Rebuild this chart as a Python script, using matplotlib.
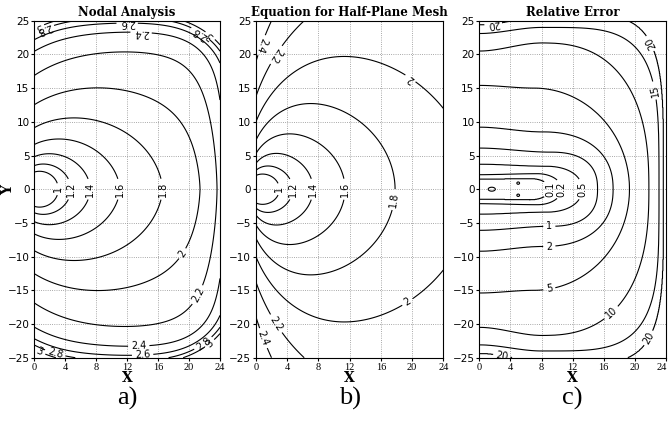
import numpy as np
import matplotlib
matplotlib.use("Agg")
import matplotlib.pyplot as plt
from matplotlib.transforms import ScaledTranslation

# contour levels of the three panels
levels_a = [1, 1.2, 1.4, 1.6, 1.8, 2, 2.2, 2.4, 2.6, 2.8, 3]
levels_b = [1, 1.2, 1.4, 1.6, 1.8, 2, 2.2, 2.4]
levels_c = [0.1, 0.2, 0.5, 1, 2, 5, 10, 15, 20]

# half-plane field: alpha(0deg), alpha(90deg), power, r0(0deg), r0(90deg), power
mesh_b = [0.449, 0.628, 8.0, 3.0, 2.04, 1.8]
mesh_a = [0.471, 0.625, 1.4, 3.1, 2.54, 2.6]
# nodal boundary rise: top/bottom amplitude, corner extra, decay,
#                      right amplitude, corner extra, decay, corner length,
#                      left corner amplitude, corner coupling, ceiling
edge_a = [0.365, 0.405, 1.84, 0.29, 0.35, 2.2, 3.0, 0.1, 6.0, 3.12]

# relative error contours: y at x=0, y where they start to bend,
# x of the bend, x where they meet y=0, squareness
err_y0 = [1.45, 2.15, 3.7, 6.1, 9.2, 15.4, 20.5, 23.1, 24.4]
err_yb = [1.55, 2.3, 3.4, 5.5, 8.5, 15.0, 21.7, 24.0, 26.0]
err_xb = [6.5, 7.5, 8.5, 9.0, 8.0, 7.0, 8.0, 8.0, 10.0]
err_x = [9.1, 10.6, 13.2, 15.2, 17.2, 19.3, 21.8, 23.1, 23.7]
err_pw = [2.0, 2.0, 2.2, 2.5, 2.3, 2.0, 2.5, 4.0, 4.5]

xt = [0, 4, 8, 12, 16, 20, 24]
yt = [-25, -20, -15, -10, -5, 0, 5, 10, 15, 20, 25]

x = np.linspace(0, 24, 481)
y = np.linspace(-25, 25, 1001)
X, Y = np.meshgrid(x, y)
AY = np.abs(Y)


def half_plane(p):
    a0, a90, pa, r00, r090, pr = p
    r = np.hypot(X, Y) + 1e-9
    u = np.arctan2(AY, X) / (np.pi / 2)
    alpha = a0 + (a90 - a0) * u ** pa
    r0 = r00 + (r090 - r00) * u ** pr
    return 1 + alpha * np.log(r / r0)


Zb = half_plane(mesh_b)

ay0, ayc, ly, ax0, axc, lx, kc, al, kk, top = edge_a
near_y = np.exp(-(25 - AY) / kc)
By = (ay0 + ayc * (np.exp(-X / kc) + np.exp(-(24 - X) / kc))) * np.exp(-(25 - AY) / ly)
Bx = (ax0 + axc * near_y) * np.exp(-(24 - X) / lx) + al * near_y * np.exp(-X / 2.0)
Za = half_plane(mesh_a) + By + Bx + kk * By * Bx
Za = -0.05 * np.log(np.exp(-Za / 0.05) + np.exp(-top / 0.05))

# relative error: find for each point the (fractional) level whose curve passes it
idx = np.arange(len(levels_c))


def err_curve(t):
    y0 = np.interp(t, idx, err_y0)
    yb = np.interp(t, idx, err_yb)
    x0 = np.interp(t, idx, err_xb)
    x1 = np.interp(t, idx, err_x)
    pw = np.interp(t, idx, err_pw)
    s = np.clip(X / x0, 0, 1)
    flat = y0 + (yb - y0) * s * s * (3 - 2 * s)
    u = np.clip((X - x0) / (x1 - x0), 0, 1)
    ell = yb * (1 - u ** pw) ** (1 / pw)
    return np.where(X < x0, flat, ell)


lo = np.full(X.shape, -1.0)
hi = np.full(X.shape, float(len(levels_c)))
for _ in range(28):
    mid = (lo + hi) / 2
    inside = AY < err_curve(mid)
    hi = np.where(inside, mid, hi)
    lo = np.where(inside, lo, mid)
t = (lo + hi) / 2
Zc = np.exp(np.interp(t, np.r_[-1, idx, len(levels_c)], np.log(np.r_[0.05, levels_c, 26])))
# small numerical islands near the source
Zc = Zc + 0.1 * np.exp(-((X - 1.6) / 0.55) ** 2 - (Y / 0.35) ** 2)
Zc = Zc + 0.07 * np.exp(-((X - 5.0) / 0.3) ** 2 - ((AY - 0.9) / 0.3) ** 2)

# (level, x, y) of each inline label
lab_a = [(1, 3.1, 0), (1.2, 4.8, 0), (1.4, 7.4, 0), (1.6, 11.3, 0), (1.8, 16.9, 0),
         (2, 19, -9.4), (2.2, 19.9, -14.9), (2.4, 13.5, -23.2), (2.4, 13.8, 23.4),
         (2.6, 14, -24.6), (2.6, 12, 24.5), (2.8, 21.6, -22.5), (2.8, 1.2, 23.9),
         (2.8, 2.7, -24.3), (2.8, 22, 24.1), (3, 23.2, -23.7), (3, 1, -23.4),
         (3, 23.2, 23.5), (3, 0.4, 24.4)]
lab_b = [(1, 3.0, 0), (1.2, 4.6, 0), (1.4, 7.1, 0), (1.6, 11.6, 0), (1.8, 17.5, -1.5),
         (2, 19.5, 16), (2, 19, -16), (2.2, 1.8, 20.5), (2.2, 1.8, -20.5),
         (2.4, 0.4, 21.5), (2.4, 0.5, -22.3)]
lab_c = [(0.1, 9.1, 0), (0.2, 10.6, 0), (0.5, 13.2, 0), (1, 9, -5.4), (2, 9, -8.5),
         (5, 9, -14.8), (10, 17, -18.4), (15, 22.7, 14.7), (20, 21.5, -21.9),
         (20, 2.9, -24.7), (20, 1.8, 24.6), (20, 21.9, 21.6)]

fig = plt.figure(figsize=(6.69, 4.24), dpi=100)
W, H = 669.0, 424.0
boxes = [(34.3, 220.0), (256.0, 443.3), (479.3, 666.0)]
titles = ["Nodal Analysis", "Equation for Half-Plane Mesh", "Relative Error"]
fields = [(Za, levels_a, lab_a), (Zb, levels_b, lab_b), (Zc, levels_c, lab_c)]
tags = ["a)", "b)", "c)"]

for i, ((l, r), title, (Z, lev, lab), tag) in enumerate(zip(boxes, titles, fields, tags)):
    ax = fig.add_axes([l / W, (H - 357.7) / H, (r - l) / W, 337.0 / H])
    ax.grid(True, ls=":", color="0.55", lw=0.6)
    ax.set_axisbelow(True)
    cs = ax.contour(X, Y, Z, levels=lev, colors="k", linewidths=0.8)
    # snap each label onto the contour of its own level
    paths = cs.get_paths()
    spots = []
    for lv, px, py in lab:
        v = paths[lev.index(lv)].vertices
        if len(v) == 0:
            continue
        j = np.argmin((v[:, 0] - px) ** 2 + (0.87 * (v[:, 1] - py)) ** 2)
        spots.append((v[j, 0], v[j, 1]))
    ax.clabel(cs, fmt="%g", fontsize=7, inline=True, inline_spacing=3,
              manual=spots, rightside_up=False)
    # labels follow the path direction the other way round in the original
    for tx in ax.texts:
        tx.set_rotation((tx.get_rotation() + 180) % 360)
    ax.set_xlim(0, 24)
    ax.set_ylim(-25, 25)
    ax.set_xticks(xt)
    ax.set_yticks(yt)
    ax.set_xticklabels([str(v) for v in xt], fontfamily="Liberation Serif", fontsize=7.5)
    ax.set_yticklabels(["\u2212%d" % -v if v < 0 else str(v) for v in yt],
                       fontfamily="DejaVu Sans", fontsize=7.5)
    ax.tick_params(length=2.5, width=0.8, pad=1)
    ax.set_title(title, fontfamily="DejaVu Serif", fontweight="bold", fontsize=8.5, pad=3.5)
    ax.set_xlabel("X", fontfamily="DejaVu Serif", fontweight="bold", fontsize=10)
    ax.xaxis.set_label_coords(0.5, -0.04)
    if i == 2:
        last = ax.get_xticklabels()[-1]
        last.set_transform(last.get_transform() + ScaledTranslation(-3 / 72, 0, fig.dpi_scale_trans))
    fig.text((l + r) / 2 / W, 1 - 398 / H, tag, fontfamily="Liberation Serif",
             fontsize=19, ha="center", va="center")

fig.text(8 / W, 1 - 190 / H, "Y", rotation=90, fontfamily="DejaVu Serif",
         fontweight="bold", fontsize=10, ha="center", va="center")

fig.savefig("out.png", dpi=100)
